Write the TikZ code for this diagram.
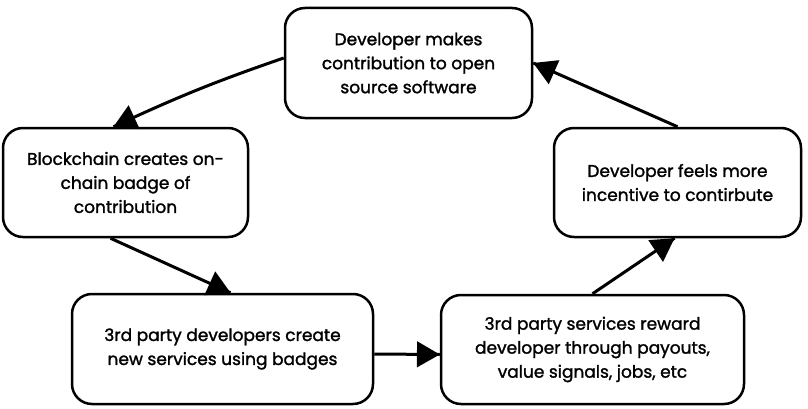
\documentclass[tikz,border=0pt]{standalone}
\usepackage{fontspec}
\setmainfont{Poppins}[FakeBold=1.5, AutoFakeBold=1.5]
\usetikzlibrary{arrows}
\usetikzlibrary{decorations.markings}
\tikzset{->/.style = {decoration={markings,
                                  mark=at position 1 with {\arrow[scale=1.6]{triangle 60}}},
                      postaction={decorate}}}
\tikzset{stage/.style = {draw, line width=2.5pt, rounded corners=20pt,
                         align=center, inner sep=0pt,
                         font=\fontsize{17}{24}\selectfont\bfseries}}

\begin{document}
\begin{tikzpicture}[x=1pt, y=1pt, line width=3pt]
      \useasboundingbox (0, 0) rectangle (808, 408);

      \node [stage, minimum width=247pt, minimum height=110pt] (contrib) at (408.5, 345)
            {Developer makes\\contribution to open\\source software};
      \node [stage, minimum width=245pt, minimum height=109pt] (chain) at (125.5, 225.5)
            {Blockchain creates on-\\chain badge of\\contribution};
      \node [stage, minimum width=247pt, minimum height=109pt] (incentive) at (677.5, 225.5)
            {Developer feels more\\incentive to contirbute};
      \node [stage, minimum width=301pt, minimum height=110pt] (services) at (222.5, 59)
            {3rd party developers create\\new services using badges};
      \node [stage, minimum width=303pt, minimum height=109pt] (reward) at (592.5, 58.5)
            {3rd party services reward\\developer through payouts,\\value signals, jobs, etc};

      \draw [->] ([yshift=5pt]contrib.west) to [bend right=3] ([xshift=-12pt]chain.north);
      \draw [->] ([xshift=-15pt]chain.south) -- ([xshift=8pt]services.north);
      \draw [->] ([yshift=-5pt]services.east) -- ([yshift=-5pt]reward.west);
      \draw [->] (reward.north) -- ([xshift=-3pt]incentive.south);
      \draw [->] (incentive.north) -- (contrib.east);
    \end{tikzpicture}
\end{document}
